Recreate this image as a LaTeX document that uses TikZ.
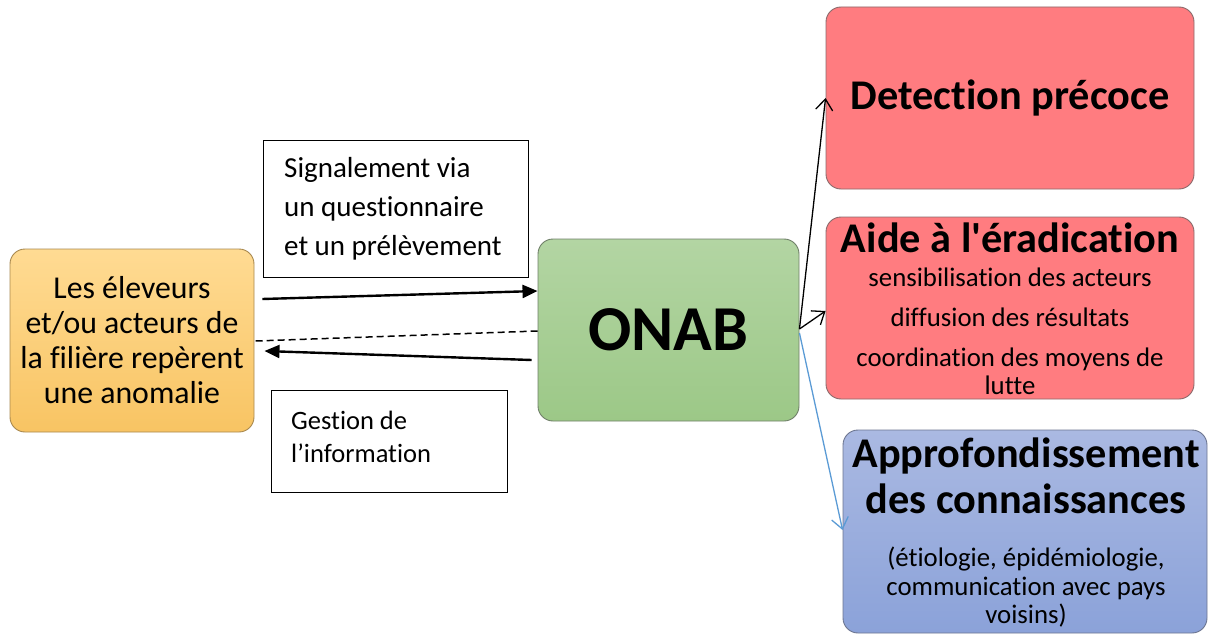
\documentclass[tikz,border=0pt]{standalone}
\usepackage{fontspec}
\setmainfont{Carlito}[Ligatures={NoCommon,TeXOff}]
\usetikzlibrary{arrows.meta,calc}
\definecolor{yeltop}{HTML}{FFDB93}
\definecolor{yelbot}{HTML}{F8C463}
\definecolor{yelbrd}{HTML}{A8884E}
\definecolor{grntop}{HTML}{B3D5A3}
\definecolor{grnbot}{HTML}{9CC887}
\definecolor{grnbrd}{HTML}{6F7F68}
\definecolor{redfill}{HTML}{FF7C80}
\definecolor{redbrd}{HTML}{8A6A6B}
\definecolor{blutop}{HTML}{AAB9E2}
\definecolor{blubot}{HTML}{8BA2D9}
\definecolor{blubrd}{HTML}{6C7590}
\definecolor{linkblue}{HTML}{5B9BD5}
\tikzset{
  rbox/.style={rectangle, rounded corners=15pt, inner sep=0pt, line width=0.9pt, align=center},
  tbox/.style={rectangle, draw=black, line width=0.9pt, inner sep=0pt, align=left},
  thickarrow/.style={line width=2.4pt, -{Triangle[length=15pt,width=13pt]}},
  thinarrow/.style={line width=1.3pt, -{Straight Barb[length=11pt,width=17pt,line width=1.3pt]}},
  smalltxt/.style={anchor=base, inner sep=0pt, font=\fontsize{26.8}{29}\selectfont},
  boldtxt/.style={anchor=base, inner sep=0pt, font=\fontsize{42.3}{46}\selectfont\bfseries},
}
\begin{document}
\begin{tikzpicture}[x=1pt,y=-1pt]
\useasboundingbox (0,0) rectangle (1208,634);

% yellow box
\node[rbox, draw=yelbrd, top color=yeltop, bottom color=yelbot,
      minimum width=244pt, minimum height=183pt,
      font=\fontsize{31.8}{35}\selectfont] (yellow) at (132,340.5)
  {Les éleveurs\\et/ou acteurs de\\la filière repèrent\\une anomalie};

% signalement box
\node[tbox, minimum width=265pt, minimum height=137pt] (sigbox) at (395.5,208.5) {};
\node[anchor=west, inner sep=0pt, align=left, font=\fontsize{29}{39}\selectfont] (sigtext) at (284,209)
  {Signalement via\\un questionnaire\\et un prélèvement};

% gestion box
\node[tbox, minimum width=236pt, minimum height=102pt] (gesbox) at (389,441) {};
\node[anchor=west, inner sep=0pt, align=left, font=\fontsize{26.5}{33}\selectfont] (gestext) at (291,437)
  {Gestion de\\l’information};

% ONAB
\node[rbox, draw=grnbrd, top color=grntop, bottom color=grnbot,
      minimum width=261pt, minimum height=182pt,
      font=\fontsize{64}{70}\selectfont\bfseries] (onab) at (668.5,330) {ONAB};

% red boxes
\node[rbox, draw=redbrd, fill=redfill, minimum width=368pt, minimum height=182pt,
      font=\fontsize{42.3}{46}\selectfont\bfseries] (detect) at (1010,98) {Detection précoce};

\node[rbox, draw=redbrd, fill=redfill, minimum width=368pt, minimum height=182pt] (aide) at (1010,308) {};
\node[boldtxt] (aidet) at (1010,252) {Aide à l'éradication};
\node[smalltxt] (aide1) at (1010,286) {sensibilisation des acteurs};
\node[smalltxt] (aide2) at (1010,326) {diffusion des résultats};
\node[smalltxt] (aide3) at (1010,366) {coordination des moyens de};
\node[smalltxt] (aide4) at (1010,394) {lutte};

% blue box
\node[rbox, draw=blubrd, top color=blutop, bottom color=blubot, minimum width=364pt, minimum height=203pt] (appro) at (1025,531.5) {};
\node[boldtxt] (appt1) at (1026,467) {Approfondissement};
\node[boldtxt] (appt2) at (1026,513) {des connaissances};
\node[smalltxt] (app1) at (1026,566) {(étiologie, épidémiologie,};
\node[smalltxt] (app2) at (1026,595) {communication avec pays};
\node[smalltxt] (app3) at (1026,623) {voisins)};

% connectors
\draw[thickarrow] ($(yellow.east)+(8,-41.5)$) -- ($(onab.west)+(0,-39)$);
\draw[line width=1.5pt, dash pattern=on 7pt off 4pt] ($(onab.west)+(0,1)$) -- ($(yellow.east)+(1,0.5)$);
\draw[thickarrow] ($(onab.west)+(-6,30)$) -- ($(yellow.east)+(10,10.5)$);

\draw[thinarrow] ($(onab.east)+(0,-1)$) -- (detect.west);
\draw[thinarrow] ($(onab.east)+(0,-1)$) -- ($(aide.west)+(0,3)$);
\draw[thinarrow, draw=linkblue] ($(onab.east)+(0,3)$) -- ($(appro.west)+(0,-1.5)$);
\end{tikzpicture}
\end{document}
